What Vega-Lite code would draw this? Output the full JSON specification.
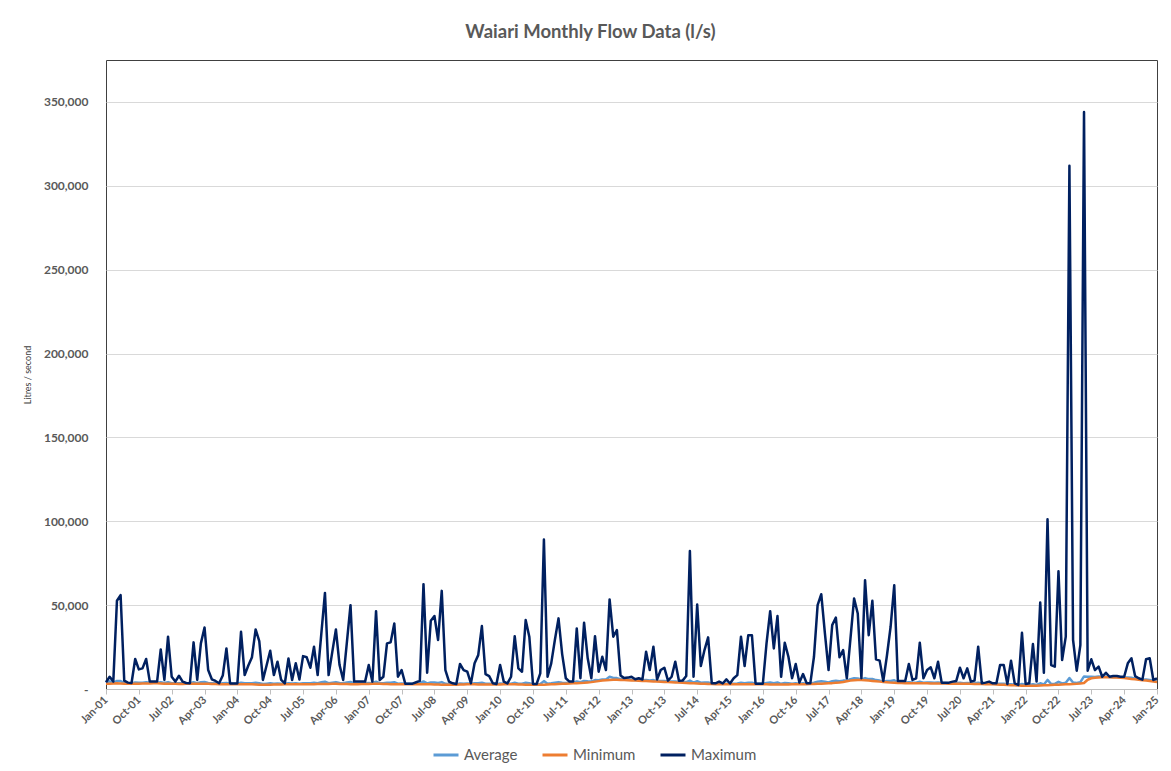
{
"$schema": "https://vega.github.io/schema/vega-lite/v6.json",
"autosize": {"type": "none"},
"width": 1051,
"height": 629,
"padding": {"left": 106, "top": 60, "right": 14, "bottom": 82},
"background": "white",
"title": {"text": "Waiari Monthly Flow Data (l/s)", "fontSize": 18.5, "font": "Lato", "fontWeight": "bold", "color": "#595959", "anchor": "middle", "dx": -41, "offset": 19},
"data": {"values": [
{"m":"Jan-01","Average":3600,"Minimum":3200,"Maximum":4000},
{"m":"Feb-01","Average":4600,"Minimum":3200,"Maximum":7300},
{"m":"Mar-01","Average":3700,"Minimum":3300,"Maximum":4400},
{"m":"Apr-01","Average":4800,"Minimum":3400,"Maximum":52600},
{"m":"May-01","Average":4700,"Minimum":3300,"Maximum":56000},
{"m":"Jun-01","Average":3600,"Minimum":3200,"Maximum":5000},
{"m":"Jul-01","Average":3500,"Minimum":3100,"Maximum":3800},
{"m":"Aug-01","Average":3400,"Minimum":3100,"Maximum":3600},
{"m":"Sep-01","Average":3900,"Minimum":3200,"Maximum":17900},
{"m":"Oct-01","Average":3700,"Minimum":3200,"Maximum":11700},
{"m":"Nov-01","Average":3800,"Minimum":3300,"Maximum":12300},
{"m":"Dec-01","Average":4000,"Minimum":3300,"Maximum":17900},
{"m":"Jan-02","Average":3700,"Minimum":3300,"Maximum":4400},
{"m":"Feb-02","Average":3800,"Minimum":3400,"Maximum":4400},
{"m":"Mar-02","Average":3800,"Minimum":3400,"Maximum":4400},
{"m":"Apr-02","Average":4100,"Minimum":3300,"Maximum":23600},
{"m":"May-02","Average":3600,"Minimum":3200,"Maximum":5400},
{"m":"Jun-02","Average":4100,"Minimum":3200,"Maximum":31200},
{"m":"Jul-02","Average":3500,"Minimum":3100,"Maximum":7300},
{"m":"Aug-02","Average":3500,"Minimum":3100,"Maximum":4400},
{"m":"Sep-02","Average":3500,"Minimum":3000,"Maximum":7900},
{"m":"Oct-02","Average":3400,"Minimum":3000,"Maximum":4400},
{"m":"Nov-02","Average":3400,"Minimum":3100,"Maximum":3600},
{"m":"Dec-02","Average":3400,"Minimum":3100,"Maximum":3500},
{"m":"Jan-03","Average":4000,"Minimum":3100,"Maximum":27800},
{"m":"Feb-03","Average":3500,"Minimum":3100,"Maximum":5400},
{"m":"Mar-03","Average":4000,"Minimum":3200,"Maximum":27200},
{"m":"Apr-03","Average":4200,"Minimum":3200,"Maximum":36700},
{"m":"May-03","Average":3600,"Minimum":3100,"Maximum":11300},
{"m":"Jun-03","Average":3400,"Minimum":3000,"Maximum":5800},
{"m":"Jul-03","Average":3400,"Minimum":3000,"Maximum":4800},
{"m":"Aug-03","Average":3200,"Minimum":2900,"Maximum":3400},
{"m":"Sep-03","Average":3400,"Minimum":2900,"Maximum":8000},
{"m":"Oct-03","Average":3600,"Minimum":2800,"Maximum":24200},
{"m":"Nov-03","Average":3100,"Minimum":2800,"Maximum":3300},
{"m":"Dec-03","Average":3100,"Minimum":2800,"Maximum":3300},
{"m":"Jan-04","Average":3100,"Minimum":2800,"Maximum":3300},
{"m":"Feb-04","Average":3800,"Minimum":2800,"Maximum":34100},
{"m":"Mar-04","Average":3400,"Minimum":2900,"Maximum":8300},
{"m":"Apr-04","Average":3500,"Minimum":2900,"Maximum":14000},
{"m":"May-04","Average":3500,"Minimum":2800,"Maximum":19000},
{"m":"Jun-04","Average":3700,"Minimum":2700,"Maximum":35500},
{"m":"Jul-04","Average":3500,"Minimum":2600,"Maximum":28600},
{"m":"Aug-04","Average":3000,"Minimum":2600,"Maximum":5400},
{"m":"Sep-04","Average":3200,"Minimum":2600,"Maximum":14000},
{"m":"Oct-04","Average":3400,"Minimum":2600,"Maximum":22800},
{"m":"Nov-04","Average":3200,"Minimum":2700,"Maximum":8300},
{"m":"Dec-04","Average":3300,"Minimum":2700,"Maximum":16300},
{"m":"Jan-05","Average":3100,"Minimum":2700,"Maximum":5400},
{"m":"Feb-05","Average":3100,"Minimum":2800,"Maximum":3300},
{"m":"Mar-05","Average":3500,"Minimum":2800,"Maximum":18200},
{"m":"Apr-05","Average":3300,"Minimum":2900,"Maximum":5400},
{"m":"May-05","Average":3500,"Minimum":2900,"Maximum":15300},
{"m":"Jun-05","Average":3200,"Minimum":2800,"Maximum":5700},
{"m":"Jul-05","Average":3500,"Minimum":2800,"Maximum":19600},
{"m":"Aug-05","Average":3500,"Minimum":2800,"Maximum":18900},
{"m":"Sep-05","Average":3500,"Minimum":2900,"Maximum":12700},
{"m":"Oct-05","Average":3700,"Minimum":2900,"Maximum":25200},
{"m":"Nov-05","Average":3500,"Minimum":3000,"Maximum":8300},
{"m":"Dec-05","Average":4000,"Minimum":3000,"Maximum":32800},
{"m":"Jan-06","Average":4400,"Minimum":3000,"Maximum":57300},
{"m":"Feb-06","Average":3500,"Minimum":3000,"Maximum":8300},
{"m":"Mar-06","Average":3800,"Minimum":3100,"Maximum":22000},
{"m":"Apr-06","Average":4100,"Minimum":3100,"Maximum":35500},
{"m":"May-06","Average":3600,"Minimum":3000,"Maximum":14300},
{"m":"Jun-06","Average":3400,"Minimum":3000,"Maximum":5400},
{"m":"Jul-06","Average":3900,"Minimum":3000,"Maximum":27700},
{"m":"Aug-06","Average":4200,"Minimum":2900,"Maximum":50000},
{"m":"Sep-06","Average":3300,"Minimum":2900,"Maximum":4400},
{"m":"Oct-06","Average":3300,"Minimum":2900,"Maximum":4400},
{"m":"Nov-06","Average":3400,"Minimum":3000,"Maximum":4400},
{"m":"Dec-06","Average":3400,"Minimum":3000,"Maximum":4400},
{"m":"Jan-07","Average":3600,"Minimum":3000,"Maximum":14300},
{"m":"Feb-07","Average":3500,"Minimum":3100,"Maximum":4400},
{"m":"Mar-07","Average":4300,"Minimum":3100,"Maximum":46400},
{"m":"Apr-07","Average":3500,"Minimum":3100,"Maximum":5400},
{"m":"May-07","Average":3400,"Minimum":3000,"Maximum":7300},
{"m":"Jun-07","Average":3800,"Minimum":3000,"Maximum":27200},
{"m":"Jul-07","Average":3800,"Minimum":2900,"Maximum":27800},
{"m":"Aug-07","Average":4000,"Minimum":2900,"Maximum":39100},
{"m":"Sep-07","Average":3200,"Minimum":2800,"Maximum":7300},
{"m":"Oct-07","Average":3300,"Minimum":2800,"Maximum":11300},
{"m":"Nov-07","Average":3100,"Minimum":2800,"Maximum":3200},
{"m":"Dec-07","Average":3100,"Minimum":2800,"Maximum":3200},
{"m":"Jan-08","Average":3100,"Minimum":2800,"Maximum":3200},
{"m":"Feb-08","Average":3200,"Minimum":2800,"Maximum":4000},
{"m":"Mar-08","Average":3300,"Minimum":2900,"Maximum":4800},
{"m":"Apr-08","Average":4500,"Minimum":2900,"Maximum":62500},
{"m":"May-08","Average":3300,"Minimum":2800,"Maximum":9700},
{"m":"Jun-08","Average":3900,"Minimum":2800,"Maximum":40700},
{"m":"Jul-08","Average":3900,"Minimum":2700,"Maximum":43500},
{"m":"Aug-08","Average":3600,"Minimum":2700,"Maximum":29200},
{"m":"Sep-08","Average":4100,"Minimum":2600,"Maximum":58500},
{"m":"Oct-08","Average":3100,"Minimum":2600,"Maximum":11300},
{"m":"Nov-08","Average":3000,"Minimum":2600,"Maximum":4400},
{"m":"Dec-08","Average":3000,"Minimum":2600,"Maximum":3400},
{"m":"Jan-09","Average":2900,"Minimum":2600,"Maximum":3000},
{"m":"Feb-09","Average":3300,"Minimum":2700,"Maximum":14900},
{"m":"Mar-09","Average":3200,"Minimum":2700,"Maximum":11300},
{"m":"Apr-09","Average":3300,"Minimum":2800,"Maximum":10300},
{"m":"May-09","Average":3200,"Minimum":2800,"Maximum":3400},
{"m":"Jun-09","Average":3400,"Minimum":2800,"Maximum":15300},
{"m":"Jul-09","Average":3400,"Minimum":2700,"Maximum":20200},
{"m":"Aug-09","Average":3800,"Minimum":2700,"Maximum":37500},
{"m":"Sep-09","Average":3200,"Minimum":2700,"Maximum":8900},
{"m":"Oct-09","Average":3200,"Minimum":2700,"Maximum":7700},
{"m":"Nov-09","Average":3100,"Minimum":2700,"Maximum":3400},
{"m":"Dec-09","Average":2900,"Minimum":2700,"Maximum":3000},
{"m":"Jan-10","Average":3300,"Minimum":2700,"Maximum":14300},
{"m":"Feb-10","Average":3200,"Minimum":2800,"Maximum":4400},
{"m":"Mar-10","Average":3100,"Minimum":2800,"Maximum":3300},
{"m":"Apr-10","Average":3200,"Minimum":2800,"Maximum":7300},
{"m":"May-10","Average":3700,"Minimum":2800,"Maximum":31500},
{"m":"Jun-10","Average":3200,"Minimum":2700,"Maximum":12300},
{"m":"Jul-10","Average":3200,"Minimum":2700,"Maximum":10300},
{"m":"Aug-10","Average":3700,"Minimum":2600,"Maximum":41100},
{"m":"Sep-10","Average":3500,"Minimum":2600,"Maximum":31200},
{"m":"Oct-10","Average":2900,"Minimum":2600,"Maximum":3000},
{"m":"Nov-10","Average":2900,"Minimum":2500,"Maximum":3000},
{"m":"Dec-10","Average":3000,"Minimum":2500,"Maximum":9300},
{"m":"Jan-11","Average":4700,"Minimum":2600,"Maximum":89100},
{"m":"Feb-11","Average":3100,"Minimum":2700,"Maximum":7300},
{"m":"Mar-11","Average":3400,"Minimum":2800,"Maximum":15300},
{"m":"Apr-11","Average":3800,"Minimum":2900,"Maximum":29200},
{"m":"May-11","Average":4100,"Minimum":3000,"Maximum":42100},
{"m":"Jun-11","Average":3800,"Minimum":3100,"Maximum":20800},
{"m":"Jul-11","Average":3600,"Minimum":3200,"Maximum":6400},
{"m":"Aug-11","Average":3700,"Minimum":3300,"Maximum":4400},
{"m":"Sep-11","Average":3800,"Minimum":3400,"Maximum":4400},
{"m":"Oct-11","Average":4500,"Minimum":3500,"Maximum":36100},
{"m":"Nov-11","Average":4000,"Minimum":3600,"Maximum":6400},
{"m":"Dec-11","Average":4800,"Minimum":3700,"Maximum":39500},
{"m":"Jan-12","Average":4600,"Minimum":3900,"Maximum":18300},
{"m":"Feb-12","Average":4500,"Minimum":4100,"Maximum":6400},
{"m":"Mar-12","Average":5300,"Minimum":4400,"Maximum":31500},
{"m":"Apr-12","Average":5200,"Minimum":4700,"Maximum":10300},
{"m":"May-12","Average":5700,"Minimum":5000,"Maximum":19200},
{"m":"Jun-12","Average":5700,"Minimum":5200,"Maximum":11300},
{"m":"Jul-12","Average":7300,"Minimum":5400,"Maximum":53400},
{"m":"Aug-12","Average":6600,"Minimum":5500,"Maximum":31200},
{"m":"Sep-12","Average":6500,"Minimum":5500,"Maximum":35100},
{"m":"Oct-12","Average":5900,"Minimum":5400,"Maximum":8000},
{"m":"Nov-12","Average":5700,"Minimum":5300,"Maximum":6500},
{"m":"Dec-12","Average":5600,"Minimum":5200,"Maximum":6800},
{"m":"Jan-13","Average":5500,"Minimum":5100,"Maximum":7300},
{"m":"Feb-13","Average":5400,"Minimum":5000,"Maximum":5800},
{"m":"Mar-13","Average":5300,"Minimum":4900,"Maximum":6400},
{"m":"Apr-13","Average":5200,"Minimum":4800,"Maximum":5700},
{"m":"May-13","Average":5400,"Minimum":4700,"Maximum":22200},
{"m":"Jun-13","Average":5100,"Minimum":4600,"Maximum":11300},
{"m":"Jul-13","Average":5300,"Minimum":4500,"Maximum":25200},
{"m":"Aug-13","Average":4800,"Minimum":4400,"Maximum":5700},
{"m":"Sep-13","Average":4800,"Minimum":4300,"Maximum":11300},
{"m":"Oct-13","Average":4800,"Minimum":4200,"Maximum":12700},
{"m":"Nov-13","Average":4500,"Minimum":4100,"Maximum":5000},
{"m":"Dec-13","Average":4400,"Minimum":4000,"Maximum":7300},
{"m":"Jan-14","Average":4500,"Minimum":3900,"Maximum":16300},
{"m":"Feb-14","Average":4200,"Minimum":3800,"Maximum":4900},
{"m":"Mar-14","Average":4100,"Minimum":3700,"Maximum":5000},
{"m":"Apr-14","Average":4100,"Minimum":3600,"Maximum":7700},
{"m":"May-14","Average":5000,"Minimum":3500,"Maximum":82300},
{"m":"Jun-14","Average":3800,"Minimum":3400,"Maximum":7300},
{"m":"Jul-14","Average":4600,"Minimum":3300,"Maximum":50400},
{"m":"Aug-14","Average":3800,"Minimum":3200,"Maximum":13700},
{"m":"Sep-14","Average":3900,"Minimum":3100,"Maximum":23200},
{"m":"Oct-14","Average":3900,"Minimum":3000,"Maximum":30800},
{"m":"Nov-14","Average":3300,"Minimum":3000,"Maximum":3400},
{"m":"Dec-14","Average":3200,"Minimum":2900,"Maximum":3400},
{"m":"Jan-15","Average":3300,"Minimum":2900,"Maximum":4400},
{"m":"Feb-15","Average":3100,"Minimum":2800,"Maximum":3300},
{"m":"Mar-15","Average":3200,"Minimum":2800,"Maximum":5700},
{"m":"Apr-15","Average":3100,"Minimum":2800,"Maximum":3300},
{"m":"May-15","Average":3200,"Minimum":2800,"Maximum":6400},
{"m":"Jun-15","Average":3300,"Minimum":2800,"Maximum":8300},
{"m":"Jul-15","Average":3700,"Minimum":2800,"Maximum":31200},
{"m":"Aug-15","Average":3400,"Minimum":2800,"Maximum":13700},
{"m":"Sep-15","Average":3700,"Minimum":2800,"Maximum":32100},
{"m":"Oct-15","Average":3700,"Minimum":2800,"Maximum":32100},
{"m":"Nov-15","Average":3100,"Minimum":2800,"Maximum":3200},
{"m":"Dec-15","Average":3100,"Minimum":2800,"Maximum":3200},
{"m":"Jan-16","Average":3100,"Minimum":2800,"Maximum":3200},
{"m":"Feb-16","Average":3600,"Minimum":2800,"Maximum":27200},
{"m":"Mar-16","Average":3900,"Minimum":2700,"Maximum":46400},
{"m":"Apr-16","Average":3500,"Minimum":2700,"Maximum":24200},
{"m":"May-16","Average":3900,"Minimum":2700,"Maximum":43500},
{"m":"Jun-16","Average":3100,"Minimum":2700,"Maximum":7300},
{"m":"Jul-16","Average":3600,"Minimum":2700,"Maximum":27600},
{"m":"Aug-16","Average":3400,"Minimum":2700,"Maximum":19200},
{"m":"Sep-16","Average":3200,"Minimum":2800,"Maximum":6400},
{"m":"Oct-16","Average":3400,"Minimum":2800,"Maximum":14900},
{"m":"Nov-16","Average":3200,"Minimum":2800,"Maximum":3800},
{"m":"Dec-16","Average":3400,"Minimum":2900,"Maximum":8900},
{"m":"Jan-17","Average":3200,"Minimum":2900,"Maximum":3400},
{"m":"Feb-17","Average":3300,"Minimum":3000,"Maximum":3400},
{"m":"Mar-17","Average":3700,"Minimum":3000,"Maximum":19200},
{"m":"Apr-17","Average":4400,"Minimum":3100,"Maximum":50000},
{"m":"May-17","Average":4600,"Minimum":3200,"Maximum":56500},
{"m":"Jun-17","Average":4300,"Minimum":3300,"Maximum":33100},
{"m":"Jul-17","Average":3900,"Minimum":3400,"Maximum":11300},
{"m":"Aug-17","Average":4600,"Minimum":3500,"Maximum":38100},
{"m":"Sep-17","Average":4900,"Minimum":3700,"Maximum":42600},
{"m":"Oct-17","Average":4600,"Minimum":3900,"Maximum":18900},
{"m":"Nov-17","Average":5000,"Minimum":4200,"Maximum":23200},
{"m":"Dec-17","Average":5000,"Minimum":4600,"Maximum":6400},
{"m":"Jan-18","Average":5900,"Minimum":5000,"Maximum":30000},
{"m":"Feb-18","Average":6400,"Minimum":5200,"Maximum":54000},
{"m":"Mar-18","Average":6300,"Minimum":5300,"Maximum":45000},
{"m":"Apr-18","Average":5700,"Minimum":5300,"Maximum":6400},
{"m":"May-18","Average":6500,"Minimum":5200,"Maximum":64900},
{"m":"Jun-18","Average":5900,"Minimum":5000,"Maximum":32100},
{"m":"Jul-18","Average":6000,"Minimum":4800,"Maximum":52600},
{"m":"Aug-18","Average":5300,"Minimum":4600,"Maximum":17700},
{"m":"Sep-18","Average":5000,"Minimum":4400,"Maximum":16900},
{"m":"Oct-18","Average":4500,"Minimum":4200,"Maximum":4800},
{"m":"Nov-18","Average":4700,"Minimum":4000,"Maximum":20000},
{"m":"Dec-18","Average":4800,"Minimum":3800,"Maximum":37100},
{"m":"Jan-19","Average":5200,"Minimum":3700,"Maximum":61900},
{"m":"Feb-19","Average":4000,"Minimum":3600,"Maximum":4800},
{"m":"Mar-19","Average":4000,"Minimum":3600,"Maximum":4800},
{"m":"Apr-19","Average":3900,"Minimum":3500,"Maximum":4800},
{"m":"May-19","Average":4100,"Minimum":3500,"Maximum":14900},
{"m":"Jun-19","Average":3900,"Minimum":3500,"Maximum":5400},
{"m":"Jul-19","Average":3800,"Minimum":3400,"Maximum":6400},
{"m":"Aug-19","Average":4300,"Minimum":3400,"Maximum":27600},
{"m":"Sep-19","Average":3800,"Minimum":3400,"Maximum":6400},
{"m":"Oct-19","Average":3900,"Minimum":3400,"Maximum":11300},
{"m":"Nov-19","Average":3900,"Minimum":3300,"Maximum":12900},
{"m":"Dec-19","Average":3700,"Minimum":3300,"Maximum":6400},
{"m":"Jan-20","Average":3900,"Minimum":3300,"Maximum":16300},
{"m":"Feb-20","Average":3600,"Minimum":3300,"Maximum":3800},
{"m":"Mar-20","Average":3600,"Minimum":3300,"Maximum":3800},
{"m":"Apr-20","Average":3500,"Minimum":3200,"Maximum":3800},
{"m":"May-20","Average":3600,"Minimum":3200,"Maximum":4400},
{"m":"Jun-20","Average":3600,"Minimum":3200,"Maximum":4800},
{"m":"Jul-20","Average":3700,"Minimum":3100,"Maximum":12700},
{"m":"Aug-20","Average":3500,"Minimum":3100,"Maximum":6400},
{"m":"Sep-20","Average":3600,"Minimum":3100,"Maximum":12300},
{"m":"Oct-20","Average":3500,"Minimum":3100,"Maximum":4400},
{"m":"Nov-20","Average":3400,"Minimum":3000,"Maximum":5000},
{"m":"Dec-20","Average":3800,"Minimum":3000,"Maximum":25200},
{"m":"Jan-21","Average":3300,"Minimum":3000,"Maximum":3400},
{"m":"Feb-21","Average":3300,"Minimum":2900,"Maximum":3800},
{"m":"Mar-21","Average":3300,"Minimum":2900,"Maximum":4400},
{"m":"Apr-21","Average":3200,"Minimum":2800,"Maximum":3400},
{"m":"May-21","Average":3100,"Minimum":2700,"Maximum":3400},
{"m":"Jun-21","Average":3200,"Minimum":2600,"Maximum":14300},
{"m":"Jul-21","Average":3100,"Minimum":2500,"Maximum":14300},
{"m":"Aug-21","Average":2800,"Minimum":2400,"Maximum":3000},
{"m":"Sep-21","Average":2900,"Minimum":2300,"Maximum":16900},
{"m":"Oct-21","Average":2600,"Minimum":2200,"Maximum":3400},
{"m":"Nov-21","Average":2300,"Minimum":2100,"Maximum":2400},
{"m":"Dec-21","Average":3000,"Minimum":2000,"Maximum":33500},
{"m":"Jan-22","Average":2400,"Minimum":2000,"Maximum":3000},
{"m":"Feb-22","Average":2400,"Minimum":2000,"Maximum":3400},
{"m":"Mar-22","Average":2800,"Minimum":2000,"Maximum":26800},
{"m":"Apr-22","Average":2400,"Minimum":2000,"Maximum":4400},
{"m":"May-22","Average":3400,"Minimum":2100,"Maximum":51600},
{"m":"Jun-22","Average":2700,"Minimum":2200,"Maximum":9700},
{"m":"Jul-22","Average":5400,"Minimum":2300,"Maximum":101200},
{"m":"Aug-22","Average":3000,"Minimum":2400,"Maximum":14300},
{"m":"Sep-22","Average":3100,"Minimum":2500,"Maximum":13300},
{"m":"Oct-22","Average":4300,"Minimum":2600,"Maximum":70200},
{"m":"Nov-22","Average":3300,"Minimum":2700,"Maximum":17300},
{"m":"Dec-22","Average":3700,"Minimum":2800,"Maximum":31200},
{"m":"Jan-23","Average":6500,"Minimum":2900,"Maximum":312000},
{"m":"Feb-23","Average":3900,"Minimum":3000,"Maximum":29200},
{"m":"Mar-23","Average":3600,"Minimum":3100,"Maximum":10900},
{"m":"Apr-23","Average":4100,"Minimum":3300,"Maximum":26200},
{"m":"May-23","Average":7500,"Minimum":3600,"Maximum":344000},
{"m":"Jun-23","Average":7300,"Minimum":5500,"Maximum":10900},
{"m":"Jul-23","Average":7300,"Minimum":6400,"Maximum":17700},
{"m":"Aug-23","Average":7200,"Minimum":6700,"Maximum":11300},
{"m":"Sep-23","Average":7400,"Minimum":6900,"Maximum":13300},
{"m":"Oct-23","Average":7200,"Minimum":7000,"Maximum":7300},
{"m":"Nov-23","Average":7400,"Minimum":7000,"Maximum":9700},
{"m":"Dec-23","Average":7200,"Minimum":7000,"Maximum":7300},
{"m":"Jan-24","Average":7200,"Minimum":6900,"Maximum":7700},
{"m":"Feb-24","Average":7100,"Minimum":6800,"Maximum":7700},
{"m":"Mar-24","Average":7000,"Minimum":6700,"Maximum":7300},
{"m":"Apr-24","Average":6900,"Minimum":6500,"Maximum":7300},
{"m":"May-24","Average":6900,"Minimum":6300,"Maximum":15300},
{"m":"Jun-24","Average":6700,"Minimum":6000,"Maximum":18300},
{"m":"Jul-24","Average":6200,"Minimum":5800,"Maximum":7700},
{"m":"Aug-24","Average":5900,"Minimum":5500,"Maximum":6400},
{"m":"Sep-24","Average":5500,"Minimum":5200,"Maximum":5600},
{"m":"Oct-24","Average":5600,"Minimum":5000,"Maximum":17700},
{"m":"Nov-24","Average":5400,"Minimum":4800,"Maximum":18300},
{"m":"Dec-24","Average":4900,"Minimum":4500,"Maximum":5400},
{"m":"Jan-25","Average":4600,"Minimum":4200,"Maximum":6400}
]},
"encoding": {
  "x": {"field": "m", "type": "ordinal", "sort": null, "title": null,
    "scale": {"type": "point", "padding": 0},
    "axis": {"values": ["Jan-01","Oct-01","Jul-02","Apr-03","Jan-04","Oct-04","Jul-05","Apr-06","Jan-07","Oct-07","Jul-08","Apr-09","Jan-10","Oct-10","Jul-11","Apr-12","Jan-13","Oct-13","Jul-14","Apr-15","Jan-16","Oct-16","Jul-17","Apr-18","Jan-19","Oct-19","Jul-20","Apr-21","Jan-22","Oct-22","Jul-23","Apr-24","Jan-25"],
      "labelAngle": -45, "labelAlign": "right", "labelBaseline": "middle", "labelPadding": 4,
      "labelFont": "Lato", "labelFontSize": 11, "labelFontWeight": "bold", "labelColor": "#595959",
      "tickColor": "#bfbfbf", "tickSize": 5, "domainColor": "#bfbfbf", "grid": false}
  }
},
"layer": [
  {"mark": {"type": "line", "strokeWidth": 2.5, "strokeJoin": "round"},
   "encoding": {
     "y": {"field": "Average", "type": "quantitative", "title": "Litres / second",
       "scale": {"domain": [0, 375000], "nice": false},
       "axis": {"values": [0,50000,100000,150000,200000,250000,300000,350000],
         "labelExpr": "datum.value == 0 ? '-' : format(datum.value, ',')",
         "labelFont": "Lato", "labelFontSize": 12, "labelFontWeight": "bold", "labelColor": "#595959",
         "labelPadding": 18, "ticks": false, "domain": false, "gridColor": "#d9d9d9",
         "titleFont": "Lato", "titleFontSize": 9, "titleFontWeight": "normal", "titleColor": "#404040", "titlePadding": 11}},
     "color": {"datum": "Average", "type": "nominal",
       "scale": {"domain": ["Average","Minimum","Maximum"], "range": ["#5B9BD5","#ED7D31","#002060"]},
       "legend": {"orient": "none", "legendX": 326, "legendY": 681, "direction": "horizontal", "title": null,
         "symbolType": "stroke", "symbolStrokeWidth": 3, "symbolSize": 625,
         "labelFont": "Lato", "labelFontSize": 15, "labelColor": "#595959", "labelOffset": 4, "columnPadding": 18}}
   }},
  {"mark": {"type": "line", "strokeWidth": 2.5, "strokeJoin": "round"},
   "encoding": {
     "y": {"field": "Minimum", "type": "quantitative", "title": "Litres / second"},
     "color": {"datum": "Minimum", "type": "nominal"}
   }},
  {"mark": {"type": "line", "strokeWidth": 2.5, "strokeJoin": "round"},
   "encoding": {
     "y": {"field": "Maximum", "type": "quantitative", "title": "Litres / second"},
     "color": {"datum": "Maximum", "type": "nominal"}
   }}
],
"config": {
  "view": {"stroke": "#404040", "strokeWidth": 1},
  "font": "Lato"
}
}
